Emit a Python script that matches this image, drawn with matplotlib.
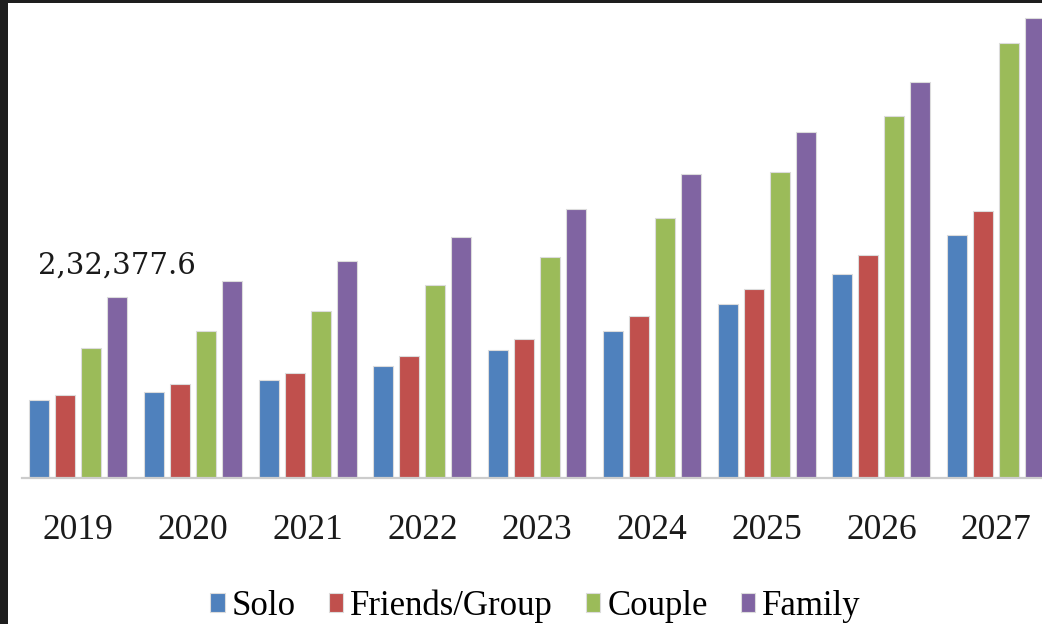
import matplotlib
matplotlib.use("Agg")
import matplotlib.pyplot as plt
from matplotlib.patches import Rectangle
import numpy as np

years = ["2019", "2020", "2021", "2022", "2023", "2024", "2025", "2026", "2027"]
solo = [100100, 110400, 125800, 143800, 164300, 188700, 223400, 261900, 312000]
friends_group = [106600, 120700, 134800, 156600, 178400, 208000, 242600, 286300, 342800]
couple = [166900, 188700, 214400, 247800, 283700, 333800, 392900, 464700, 558500]
family = [232377.6, 252900, 278600, 309400, 345400, 390300, 444200, 508400, 590600]
series_names = ["Solo", "Friends/Group", "Couple", "Family"]
colors = ["#4F81BD", "#C0504D", "#9BBB59", "#8064A2"]


def indian_format(v):
    s = f"{v:.1f}"
    ip, dp = s.split(".")
    last3 = ip[-3:]
    rest = ip[:-3]
    groups = []
    while len(rest) > 2:
        groups.insert(0, rest[-2:])
        rest = rest[:-2]
    if rest:
        groups.insert(0, rest)
    return ",".join(groups + [last3]) + "." + dp


W, H = 1042, 624
fig = plt.figure(figsize=(W / 100, H / 100), dpi=100)
fig.patch.set_facecolor("#1e1e1e")
fig.patches.append(Rectangle((8 / W, 0), 1 - 8 / W, (H - 3) / H,
                             transform=fig.transFigure, facecolor="white",
                             edgecolor="none", zorder=-10))

ax = fig.add_axes([22 / W, (H - 478) / H, 1 - 22 / W, 475 / H])
ax.set_facecolor("none")
ax.set_zorder(1)

x = np.arange(len(years))
width = 0.174
offsets = [-0.340, -0.113, 0.113, 0.340]
data = [solo, friends_group, couple, family]
for vals, off, c, name in zip(data, offsets, colors, series_names):
    ax.bar(x + off, vals, width, color=c, edgecolor="#dcdcdc", linewidth=0.8,
           label=name, zorder=2)

ax.set_xlim(-0.49, 8.40)
ax.set_ylim(0, 610000)

for s in ["top", "right", "left"]:
    ax.spines[s].set_visible(False)
ax.spines["bottom"].set_color("#cccccc")
ax.spines["bottom"].set_linewidth(1.6)
ax.set_yticks([])
ax.set_xticks(x)
ax.set_xticklabels(years, fontfamily="Liberation Serif", fontsize=25.5,
                   color="#1a1a1a")
ax.tick_params(axis="x", length=0, pad=26)

ax.annotate(indian_format(family[0]), xy=(x[0] + offsets[3], family[0]),
            xytext=(0, 17), textcoords="offset points", ha="center",
            va="baseline", fontfamily="DejaVu Serif", fontsize=21,
            color="#1a1a1a")

handles, labels = ax.get_legend_handles_labels()
leg = fig.legend(handles, labels, loc="center",
                 bbox_to_anchor=(535.5 / W, 1 - 606 / H), ncol=4, frameon=False,
                 handlelength=0.42, handleheight=0.5, handletextpad=0.2,
                 columnspacing=0.95,
                 prop={"family": "Liberation Serif", "size": 25})
leg.set_zorder(2)

fig.savefig("out.png", dpi=100)
